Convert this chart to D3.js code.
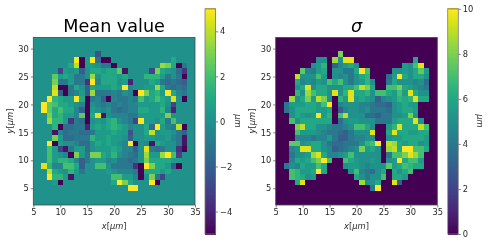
<!DOCTYPE html>
<html>
<head>
<meta charset="utf-8">
<script src="https://cdn.jsdelivr.net/npm/d3@7"></script>
<style>
    html, body { margin: 0; padding: 0; background: #fff; }
    svg { display: block; font-family: "DejaVu Sans", sans-serif; }
    #chart { filter: blur(0.3px); }
</style>
</head>
<body>
<div id="chart"></div>
<script>
// row y values, top to bottom
const rowYs = [29, 28, 27, 26, 25, 24, 23, 22, 21, 20, 19, 18, 17, 16, 15, 14, 13, 12, 11, 10, 9, 8, 7, 6, 5];

// each row is a list of runs: [first x, value, value, ...]
const meanRows = [
    [[17, -2.5]],
    [[13, 5, -5, 0.5, 5, -1.5, -5, -5], [31, 1]],
    [[12, 1, 4, -5, 0.5, 0.5, 0, -1, -1, -5], [29, 3.5, 3, 1, -5, -1]],
    [[10, -3, 0.5, 0, 0.5, -2, 0, 1, 1, 0.5, 1, 1, 2.5, -4.5], [27, -3, 3, 1, 0.5, 0, -1.5, -3.5]],
    [[9, 2.5, 0.5, 1, 0.5, -1, -1, 0, 3.5, 0, 1, 1, 1, 0.5, 1], [26, 1.5, 1.5, 1.5, 0.5, -1, 0, -1, -5]],
    [[9, 3, -1, -1, 0.5, -1, -1, -3.5, 5, -0.5, 1, 1, 1, 0, 0.5, -4], [26, 0, 1, 0.5, -1, -1.5, -1, -1.5, -2]],
    [[9, 4, -5, -5, -1, 1, 0, -2, 1, 0.5, 0.5, 0.5, 1, 0.5, 5, -0.5], [26, 0.5, 0.5, 3.5, 1, -1, -1.5, -1, -1.5]],
    [[9, 4.5, -2, -5, -1, -0.5, 0.5, -2, 3.5, -1, -1, -1, -0.5, -1, 0, -0.5, -5, 5, 3, 1, 1.5, 0.5, 5, 1, -0.5, -1]],
    [[8, 5, 1.5, 1, 0.5, 0.5, 5, 1, -5, -1, -0.5, -2, -5, -0.5, -1, -1, -0.5, -1, 2, 0.5, 1, 2, 1, 0.5, 4.5, 0, -5]],
    [[7, 5, 2.5, 2, 1, 1, 0.5, 0, -0.5, -5, 0, -0.5, -1, -0.5, -1, -0.5, -1, -0.5, -0.5, 0.5, 0.5, 0.5, 0.5, 1, 0, -3]],
    [[7, 5, 2.5, 1, 2, 1, 1, -0.5, -2, -5, 0.5, 0, -0.5, 0, -1, -1.5, -1, -0.5, -0.5, 1, 1, 0.5, 0.5, 1.5, -0.5, -4]],
    [[8, 3, 1, 1.5, 0.5, 0.5, -0.5, 2.5, -5, 1, 4.5, -4.5, 0, -0.5, -0.5, -0.5, -1, -1, 0.5, 0.5, 0.5, 0.5, 0.5, 3, 0]],
    [[8, 3.5, 1.5, 1.5, 0.5, -3.5, -1, -1.5, -5, 0, 0.5, 0, 1, 1.5, 0, -0.5, -1, -3, 5, 0.5, 0.5, 0, 1, -1, 2]],
    [[9, 1.5, -5, -1.5, -1.5, -1, -1, -4, 0.5, 1, 0.5, 1, 1.5, 1, 0.5, -0.5], [26, 1, -1.5, 5, 0.5, -0.5, -1, 4, -5]],
    [[9, -4.5, -0.5, -1.5, -1, -1, -1.5, -1.5, -1, 0.5, 0.5, 0.5, 1, 0.5, 0.5, -2.5], [26, 1, 4, 0, 0.5, 0.5, 0, -1, -2]],
    [[9, 3, 0.5, -1.5, -1.5, -1, -1, -1, 1.5, 0.5, 0.5, 1, 0.5, 0.5, 0, -2], [26, 0.5, 0.5, 0, 0, 0.5, -0.5, -1, -4.5]],
    [[8, 5, -5, 0.5, 0, 0, -0.5, -1.5, -1.5, 0, 1, 0.5, 1, 0.5, 0, -0.5, 5, -5], [26, -0.5, -4.5, 1, 0.5, 0, 0, -1, -4.5]],
    [[8, 2, 0.5, -3, -4.5, -1, 0.5, 0.5, -1.5, 0, 0.5, 0.5, 0.5, 1, 0.5, -0.5, -0.5, -2], [26, 4.5, -1, -1.5, -1, 0, 0, -3.5, -5]],
    [[8, 2, 0.5, 0, -0.5, -5, 3, 0.5, -1, 3, 3, 1, 0.5, 1.5, 0, -0.5, -1, -1.5], [26, 3.5, 0.5, 0.5, 3.5, 5, 2, -3]],
    [[8, 2, 0.5, 1.5, 1.5, 1, -0.5, -2, -1, 0, 0.5, 0.5, -0.5, 0, -1, -1, -1.5, -1], [26, 3, 1, 1, 1, 1, 0.5, 0.5]],
    [[7, 4.5, 1.5, -0.5, -0.5, 2, 2, 1, -2, 0, 0, 2, 2, 0, -1, -1, -1, -1, -3.5, -5, 5, 3, 1, 1, 0.5, -2, -5]],
    [[8, 4, 1, 0.5, 0, 1.5, 0.5, -1], [19, 0.5, 0, -0.5, -0.5, -0.5, -1, -5, 1, 1, 1, 0.5, 1]],
    [[8, 5, 1.5, 1.5, 0.5, -4.5], [20, 2, 2, 0.5, 0.5, -0.5, -5], [27, 3, -1, -3]],
    [[9, 0.5, -5], [20, 1, 5, 3, 1, 0], [27, 5, -5]],
    [[23, 5, 5]]
];

const sigmaRows = [
    [[17, 8]],
    [[13, 5, 5], [16, 8.5, 5, 9.5, 9.5], [31, 6]],
    [[12, 5, 5.5, 6.5], [16, 3, 4.5, 5.5, 6, 5], [29, 5.5, 5, 7, 9.5]],
    [[10, 7.5, 4.5, 4, 5.5, 6], [16, 5, 5, 4, 4, 6, 10, 7], [27, 5, 5, 5.5, 5, 6, 7.5, 5.5]],
    [[9, 9, 5, 5, 5, 7, 5.5], [16, 5, 4.5, 5, 4, 5, 6, 6.5], [26, 3.5, 5.5, 10, 6, 5, 6, 6, 5]],
    [[9, 6, 4.5, 5, 4.5, 5.5, 5, 7, 6, 7, 5, 4, 5, 5.5, 6.5, 5], [26, 4, 6, 5, 5, 5, 4.5, 5, 3.5]],
    [[9, 5, 6, 9.5, 5, 6, 6, 5, 5, 5, 6, 6, 7, 9, 8, 6], [26, 7, 7, 8, 6, 5.5, 5, 4.5, 4]],
    [[9, 6.5, 5, 8.5, 7, 6, 6, 5, 9.5, 5, 6.5, 9.5, 6, 6, 6.5, 5, 7, 7, 6, 5.5, 7, 5.5, 9.5, 6, 5, 5]],
    [[8, 8.5, 5, 6, 8, 5.5, 9, 8, 5], [17, 6.5, 5.5, 9.5, 5.5, 6, 5.5, 5, 3, 4.5, 5, 5.5, 6.5, 6, 6.5, 9.5, 6, 6]],
    [[7, 4, 5.5, 5.5, 5.5, 6, 6, 5.5, 7, 10], [17, 4.5, 5, 5, 5, 4.5, 4.5, 4, 3.5, 3.5, 3, 5, 5.5, 6, 5.5, 5.5]],
    [[7, 4, 5, 6, 6, 6, 6, 5.5, 5.5, 6], [17, 3, 4.5, 5, 5, 4.5, 5, 4, 4, 4, 3.5, 5, 5.5, 6, 6, 5.5]],
    [[8, 5, 6, 5.5, 5, 5.5, 10, 5.5, 6.5], [17, 7, 9, 5, 5, 5, 3.5, 3.5, 3, 4, 4, 5, 5, 5.5, 8, 5]],
    [[8, 7, 5, 6, 6, 6, 6, 6, 6], [17, 3.5, 5, 5.5, 5.5, 5, 5, 5, 4, 4, 4, 5.5, 6, 6, 6, 9.5, 5]],
    [[9, 8, 9, 6, 6, 5, 5, 4.5, 4, 4, 4.5, 5, 7, 7, 6, 5], [26, 5.5, 6.5, 9.5, 6, 6, 6, 9, 7]],
    [[9, 7, 5.5, 5.5, 5.5, 5, 4.5, 4, 4, 3.5, 3, 4, 5, 5, 5, 9.5], [26, 6, 9.5, 6, 6, 5.5, 5.5, 6, 6]],
    [[9, 4.5, 4.5, 4.5, 4, 4.5, 4.5, 5.5, 4, 3, 3, 4, 4.5, 4.5, 5, 5], [26, 5, 5.5, 5.5, 6, 6, 6, 6, 5.5]],
    [[8, 7.5, 7.5, 5, 5.5, 6, 6, 5, 4, 3.5, 3.5, 4, 4, 4, 5, 6.5, 7, 10], [26, 9, 8.5, 6, 5.5, 6, 6, 5, 5.5]],
    [[8, 4.5, 5, 9.5, 9.5, 6, 6, 5, 4.5, 3, 3.5, 4, 4.5, 5, 8, 5.5, 6, 5], [26, 8.5, 9, 6, 10, 10, 7, 7, 6]],
    [[8, 4, 5, 5, 5.5, 8.5, 9.5, 6, 4.5, 4.5, 5, 5.5, 7, 5, 5, 5, 5, 5], [26, 4, 7, 7, 8, 9.5, 8.5, 7]],
    [[8, 4.5, 6, 5.5, 6, 7, 8, 10, 7], [18, 7, 6, 5.5, 5, 5, 5.5, 5], [26, 5, 5.5, 10, 6, 7, 7, 5.5]],
    [[7, 4, 5, 4.5, 6, 5.5, 5.5, 7, 6], [18, 5, 5.5, 5.5, 5, 4.5, 5, 5, 5, 7.5, 5.5, 6, 7, 6.5, 6, 6]],
    [[8, 7, 6.5, 5.5, 5.5, 6, 10, 6], [19, 5, 7, 4.5, 4, 3.5, 5, 6], [27, 6, 5, 6, 7]],
    [[8, 7, 6.5, 6, 5, 5.5], [20, 6, 5, 4, 5, 5, 7], [27, 6, 6, 5.5]],
    [[9, 6, 9.5], [21, 8.5, 5, 5, 6], [27, 9.5, 3]],
    [[23, 4, 10]]
];

const xTicks = [5, 10, 15, 20, 25, 30, 35];
const yTicks = [5, 10, 15, 20, 25, 30];
const meanBarTicks = [-4, -2, 0, 2, 4];
const sigmaBarTicks = [0, 2, 4, 6, 8, 10];

const width = 491, height = 245;
const svg = d3.select("#chart").append("svg").attr("width", width).attr("height", height);
const textCol = "#2a2a2a", frameCol = "#4a4a4a";

function drawPanel(o) {
    const x = d3.scaleLinear().domain([5, 35]).range([o.left, o.right]);
    const y = d3.scaleLinear().domain([2, 32]).range([205, 37.4]);
    const color = d3.scaleSequential(d3.interpolateViridis).domain(o.domain).clamp(true);
    const g = svg.append("g");

    // background = value where nothing was measured
    g.append("rect")
        .attr("x", x(5)).attr("y", y(32))
        .attr("width", x(35) - x(5)).attr("height", y(2) - y(32))
        .attr("fill", color(0));

    // flatten the runs into cells
    let cells = [];
    o.rows.forEach((runs, r) => {
        runs.forEach(run => {
            run.slice(1).forEach((v, k) => cells.push({ x: run[0] + k, y: rowYs[r], v: v }));
        });
    });

    // crisp edges, otherwise the antialiased seams show up as a grid
    g.selectAll("rect.cell").data(cells).enter().append("rect")
        .attr("class", "cell")
        .attr("shape-rendering", "crispEdges")
        .attr("x", d => x(d.x - 0.5))
        .attr("y", d => y(d.y + 0.5))
        .attr("width", x(1) - x(0))
        .attr("height", y(0) - y(1))
        .attr("fill", d => color(d.v));

    const xAxis = g.append("g").attr("transform", "translate(0,205)")
        .call(d3.axisBottom(x).tickValues(xTicks).tickSize(2.5).tickPadding(2));
    const yAxis = g.append("g").attr("transform", `translate(${o.left},0)`)
        .call(d3.axisLeft(y).tickValues(yTicks).tickSize(2.5).tickPadding(2));
    [xAxis, yAxis].forEach(a => {
        a.select(".domain").remove();
        a.selectAll("line").attr("stroke", frameCol).attr("stroke-width", 0.7);
        a.selectAll("text").attr("fill", textCol).style("font-size", "8.3px").style("font-family", "DejaVu Sans");
    });

    g.append("rect")
        .attr("x", x(5)).attr("y", y(32))
        .attr("width", x(35) - x(5)).attr("height", y(2) - y(32))
        .attr("fill", "none").attr("stroke", frameCol).attr("stroke-width", 0.8);

    // axis labels
    const xl = g.append("text").attr("x", (o.left + o.right) / 2).attr("y", 229)
        .attr("text-anchor", "middle").attr("fill", textCol).style("font-size", "8.3px");
    xl.append("tspan").attr("font-style", "italic").text("x");
    xl.append("tspan").text("[");
    xl.append("tspan").attr("font-style", "italic").text("μm");
    xl.append("tspan").text("]");

    const yl = g.append("text").attr("transform", `translate(${o.yLabelX},121) rotate(-90)`)
        .attr("text-anchor", "middle").attr("fill", textCol).style("font-size", "8.3px");
    yl.append("tspan").attr("font-style", "italic").text("y");
    yl.append("tspan").text("[");
    yl.append("tspan").attr("font-style", "italic").text("μm");
    yl.append("tspan").text("]");

    // title
    g.append("text").attr("x", (o.left + o.right) / 2).attr("y", 32)
        .attr("text-anchor", "middle").attr("fill", "#000")
        .attr("font-style", o.titleStyle)
        .style("font-size", "17.6px")
        .text(o.title);

    // colorbar
    const bar = d3.scaleLinear().domain(o.domain).range([234, 8.8]);
    const steps = d3.range(0, 226);
    g.selectAll("rect.step").data(steps).enter().append("rect")
        .attr("class", "step")
        .attr("shape-rendering", "crispEdges")
        .attr("x", o.barLeft).attr("width", 10.6)
        .attr("y", d => 8.8 + d).attr("height", 1.2)
        .attr("fill", d => color(bar.invert(8.8 + d + 0.5)));

    const barAxis = g.append("g").attr("transform", `translate(${o.barLeft + 10.6},0)`)
        .call(d3.axisRight(bar).tickValues(o.barTicks).tickSize(2.5).tickPadding(2)
            .tickFormat(d => String(d).replace("-", "\u2212")));
    barAxis.select(".domain").remove();
    barAxis.selectAll("line").attr("stroke", frameCol).attr("stroke-width", 0.7);
    barAxis.selectAll("text").attr("fill", textCol).style("font-size", "8.3px").style("font-family", "DejaVu Sans");

    g.append("rect")
        .attr("x", o.barLeft).attr("y", 8.8).attr("width", 10.6).attr("height", 225.2)
        .attr("fill", "none").attr("stroke", "#777").attr("stroke-width", 0.8);
    g.append("line")
        .attr("x1", o.barLeft).attr("x2", o.barLeft + 10.6).attr("y1", 8.8).attr("y2", 8.8)
        .attr("stroke", "#b09a10").attr("stroke-width", 1);

    g.append("text").attr("transform", `translate(${o.barLabelX},121) rotate(90)`)
        .attr("text-anchor", "middle").attr("font-style", "italic")
        .attr("fill", textCol).style("font-size", "8.3px")
        .text("μm");
}

drawPanel({
    rows: meanRows, domain: [-5, 5], left: 33.3, right: 195, yLabelX: 13,
    title: "Mean value", titleStyle: "normal",
    barLeft: 205, barTicks: meanBarTicks, barLabelX: 235
});

drawPanel({
    rows: sigmaRows, domain: [0, 10], left: 275.7, right: 437.3, yLabelX: 255,
    title: "σ", titleStyle: "italic",
    barLeft: 447.7, barTicks: sigmaBarTicks, barLabelX: 477
});
</script>
</body>
</html>
